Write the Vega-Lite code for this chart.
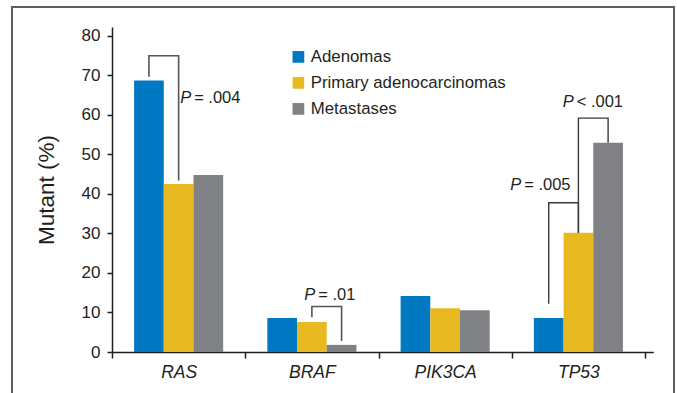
{
  "$schema": "https://vega.github.io/schema/vega-lite/v6.json",
  "width": 662,
  "height": 389,
  "autosize": {"type": "none"},
  "padding": {"left": 12, "top": 7, "right": 3, "bottom": -3},
  "background": "white",
  "config": {
    "view": {"stroke": "#5e5f61", "strokeWidth": 2},
    "font": "Liberation Sans",
    "axis": {"grid": false}
  },
  "datasets": {
    "bars": [
      {"gene": "RAS", "group": "Adenomas", "pct": 68.7},
      {"gene": "RAS", "group": "Primary adenocarcinomas", "pct": 42.5},
      {"gene": "RAS", "group": "Metastases", "pct": 44.8},
      {"gene": "BRAF", "group": "Adenomas", "pct": 8.6},
      {"gene": "BRAF", "group": "Primary adenocarcinomas", "pct": 7.6},
      {"gene": "BRAF", "group": "Metastases", "pct": 1.8},
      {"gene": "PIK3CA", "group": "Adenomas", "pct": 14.2},
      {"gene": "PIK3CA", "group": "Primary adenocarcinomas", "pct": 11.1},
      {"gene": "PIK3CA", "group": "Metastases", "pct": 10.6},
      {"gene": "TP53", "group": "Adenomas", "pct": 8.6},
      {"gene": "TP53", "group": "Primary adenocarcinomas", "pct": 30.2},
      {"gene": "TP53", "group": "Metastases", "pct": 53.0}
    ],
    "brackets": [
      {"set": "a", "bracket": "ras", "gene": "RAS", "group": "Adenomas", "pct": 69.7, "step": 1},
      {"set": "a", "bracket": "ras", "gene": "RAS", "group": "Adenomas", "pct": 75.0, "step": 2},
      {"set": "a", "bracket": "ras", "gene": "RAS", "group": "Primary adenocarcinomas", "pct": 75.0, "step": 3},
      {"set": "a", "bracket": "ras", "gene": "RAS", "group": "Primary adenocarcinomas", "pct": 43.4, "step": 4},
      {"set": "a", "bracket": "braf", "gene": "BRAF", "group": "Primary adenocarcinomas", "pct": 8.8, "step": 1},
      {"set": "a", "bracket": "braf", "gene": "BRAF", "group": "Primary adenocarcinomas", "pct": 11.5, "step": 2},
      {"set": "a", "bracket": "braf", "gene": "BRAF", "group": "Metastases", "pct": 11.5, "step": 3},
      {"set": "a", "bracket": "braf", "gene": "BRAF", "group": "Metastases", "pct": 2.8, "step": 4},
      {"set": "b", "bracket": "t005", "gene": "TP53", "group": "Adenomas", "pct": 12.2, "step": 1},
      {"set": "b", "bracket": "t005", "gene": "TP53", "group": "Adenomas", "pct": 37.8, "step": 2},
      {"set": "b", "bracket": "t005", "gene": "TP53", "group": "Primary adenocarcinomas", "pct": 37.8, "step": 3},
      {"set": "b", "bracket": "t005", "gene": "TP53", "group": "Primary adenocarcinomas", "pct": 30.2, "step": 4},
      {"set": "c", "bracket": "t001", "gene": "TP53", "group": "Primary adenocarcinomas", "pct": 30.2, "step": 1},
      {"set": "c", "bracket": "t001", "gene": "TP53", "group": "Primary adenocarcinomas", "pct": 59.2, "step": 2},
      {"set": "c", "bracket": "t001", "gene": "TP53", "group": "Metastases", "pct": 59.2, "step": 3},
      {"set": "c", "bracket": "t001", "gene": "TP53", "group": "Metastases", "pct": 53.0, "step": 4}
    ],
    "labels": [
      {"id": "ras", "gene": "RAS", "group": "Primary adenocarcinomas", "pct": 64.2, "sym": "P", "stat": "= .004"},
      {"id": "braf", "gene": "BRAF", "group": "Primary adenocarcinomas", "pct": 14.4, "sym": "P", "stat": "= .01"},
      {"id": "t005", "gene": "TP53", "group": "Adenomas", "pct": 42.3, "sym": "P", "stat": "= .005"},
      {"id": "t001", "gene": "TP53", "group": "Primary adenocarcinomas", "pct": 63.3, "sym": "P", "stat": "< .001"}
    ]
  },
  "layer": [
    {
      "data": {"name": "bars"},
      "mark": {"type": "bar"},
      "encoding": {
        "x": {
          "field": "gene", "type": "nominal",
          "sort": ["RAS", "BRAF", "PIK3CA", "TP53"],
          "scale": {"range": [100, 641.3], "paddingInner": 0, "paddingOuter": 0.031, "align": 0},
          "axis": {
            "orient": "bottom", "offset": -44, "title": null,
            "tickBand": "extent", "tickSize": 6, "tickWidth": 1.5, "tickColor": "#231f20",
            "domainColor": "#231f20", "domainWidth": 1.5,
            "labelFontSize": 17.5, "labelFontStyle": "italic", "labelAngle": 0,
            "labelPadding": 5, "labelColor": "#231f20"
          }
        },
        "xOffset": {
          "field": "group", "type": "nominal",
          "sort": ["Adenomas", "Primary adenocarcinomas", "Metastases"],
          "scale": {"paddingInner": 0, "paddingOuter": 0.744}
        },
        "y": {
          "field": "pct", "type": "quantitative",
          "scale": {"domain": [0, 82.3], "range": [345, 19.9], "nice": false, "zero": true},
          "axis": {
            "orient": "left", "offset": -100,
            "values": [0, 10, 20, 30, 40, 50, 60, 70, 80],
            "tickSize": 5, "tickWidth": 1.5, "tickColor": "#231f20",
            "domainColor": "#231f20", "domainWidth": 1.5,
            "labelFontSize": 17, "labelColor": "#231f20", "labelPadding": 7,
            "title": "Mutant (%)", "titleFontSize": 22.5, "titleFontWeight": "normal",
            "titleColor": "#231f20", "titlePadding": 23, "grid": false
          }
        },
        "color": {
          "field": "group", "type": "nominal",
          "scale": {
            "domain": ["Adenomas", "Primary adenocarcinomas", "Metastases"],
            "range": ["#0079c2", "#e9b922", "#808184"]
          },
          "legend": {
            "orient": "none", "legendX": 278, "legendY": 41.5, "title": null,
            "symbolType": "square", "symbolSize": 137, "symbolStrokeWidth": 0,
            "labelFontSize": 16.8, "labelColor": "#231f20", "labelOffset": 4,
            "rowPadding": 8, "padding": 0, "labelLimit": 400
          }
        }
      }
    },
    {
      "data": {"name": "brackets"},
      "transform": [{"filter": "datum.set == 'a'"}],
      "mark": {"type": "line", "color": "#555557", "strokeWidth": 1.6, "strokeJoin": "miter", "strokeCap": "butt"},
      "encoding": {
        "x": {"field": "gene", "type": "nominal", "sort": ["RAS", "BRAF", "PIK3CA", "TP53"]},
        "xOffset": {"field": "group", "type": "nominal", "sort": ["Adenomas", "Primary adenocarcinomas", "Metastases"], "bandPosition": 0.41},
        "y": {"field": "pct", "type": "quantitative"},
        "detail": {"field": "bracket", "type": "nominal"},
        "order": {"field": "step", "type": "quantitative"}
      }
    },
    {
      "data": {"name": "brackets"},
      "transform": [{"filter": "datum.set == 'b'"}],
      "mark": {"type": "line", "color": "#3a3a3c", "strokeWidth": 1.4, "strokeJoin": "miter", "strokeCap": "butt"},
      "encoding": {
        "x": {"field": "gene", "type": "nominal", "sort": ["RAS", "BRAF", "PIK3CA", "TP53"]},
        "xOffset": {"field": "group", "type": "nominal", "sort": ["Adenomas", "Primary adenocarcinomas", "Metastases"], "bandPosition": 0.5},
        "y": {"field": "pct", "type": "quantitative"},
        "detail": {"field": "bracket", "type": "nominal"},
        "order": {"field": "step", "type": "quantitative"}
      }
    },
    {
      "data": {"name": "brackets"},
      "transform": [{"filter": "datum.set == 'c'"}],
      "mark": {"type": "line", "color": "#3a3a3c", "strokeWidth": 1.4, "strokeJoin": "miter", "strokeCap": "butt"},
      "encoding": {
        "x": {"field": "gene", "type": "nominal", "sort": ["RAS", "BRAF", "PIK3CA", "TP53"]},
        "xOffset": {"field": "group", "type": "nominal", "sort": ["Adenomas", "Primary adenocarcinomas", "Metastases"], "bandPosition": 0.65},
        "y": {"field": "pct", "type": "quantitative"},
        "detail": {"field": "bracket", "type": "nominal"},
        "order": {"field": "step", "type": "quantitative"}
      }
    },
    {
      "data": {"name": "labels"},
      "transform": [{"filter": "datum.id == 'ras'"}],
      "encoding": {
        "x": {"field": "gene", "type": "nominal", "sort": ["RAS", "BRAF", "PIK3CA", "TP53"]},
        "xOffset": {"field": "group", "type": "nominal", "sort": ["Adenomas", "Primary adenocarcinomas", "Metastases"]},
        "y": {"field": "pct", "type": "quantitative"}
      },
      "layer": [
        {"mark": {"type": "text", "align": "left", "baseline": "middle", "dx": 1.5, "fontSize": 16.5, "fontStyle": "italic", "color": "#231f20"}, "encoding": {"text": {"field": "sym"}}},
        {"mark": {"type": "text", "align": "left", "baseline": "middle", "dx": 15.5, "fontSize": 16.5, "color": "#231f20"}, "encoding": {"text": {"field": "stat"}}}
      ]
    },
    {
      "data": {"name": "labels"},
      "transform": [{"filter": "datum.id == 'braf'"}],
      "encoding": {
        "x": {"field": "gene", "type": "nominal", "sort": ["RAS", "BRAF", "PIK3CA", "TP53"]},
        "xOffset": {"field": "group", "type": "nominal", "sort": ["Adenomas", "Primary adenocarcinomas", "Metastases"]},
        "y": {"field": "pct", "type": "quantitative"}
      },
      "layer": [
        {"mark": {"type": "text", "align": "left", "baseline": "middle", "dx": -7.7, "fontSize": 16.5, "fontStyle": "italic", "color": "#231f20"}, "encoding": {"text": {"field": "sym"}}},
        {"mark": {"type": "text", "align": "left", "baseline": "middle", "dx": 6.3, "fontSize": 16.5, "color": "#231f20"}, "encoding": {"text": {"field": "stat"}}}
      ]
    },
    {
      "data": {"name": "labels"},
      "transform": [{"filter": "datum.id == 't005'"}],
      "encoding": {
        "x": {"field": "gene", "type": "nominal", "sort": ["RAS", "BRAF", "PIK3CA", "TP53"]},
        "xOffset": {"field": "group", "type": "nominal", "sort": ["Adenomas", "Primary adenocarcinomas", "Metastases"]},
        "y": {"field": "pct", "type": "quantitative"}
      },
      "layer": [
        {"mark": {"type": "text", "align": "left", "baseline": "middle", "dx": -38.5, "fontSize": 16.5, "fontStyle": "italic", "color": "#231f20"}, "encoding": {"text": {"field": "sym"}}},
        {"mark": {"type": "text", "align": "left", "baseline": "middle", "dx": -24.5, "fontSize": 16.5, "color": "#231f20"}, "encoding": {"text": {"field": "stat"}}}
      ]
    },
    {
      "data": {"name": "labels"},
      "transform": [{"filter": "datum.id == 't001'"}],
      "encoding": {
        "x": {"field": "gene", "type": "nominal", "sort": ["RAS", "BRAF", "PIK3CA", "TP53"]},
        "xOffset": {"field": "group", "type": "nominal", "sort": ["Adenomas", "Primary adenocarcinomas", "Metastases"]},
        "y": {"field": "pct", "type": "quantitative"}
      },
      "layer": [
        {"mark": {"type": "text", "align": "left", "baseline": "middle", "dx": -15.7, "fontSize": 16.5, "fontStyle": "italic", "color": "#231f20"}, "encoding": {"text": {"field": "sym"}}},
        {"mark": {"type": "text", "align": "left", "baseline": "middle", "dx": -1.7, "fontSize": 16.5, "color": "#231f20"}, "encoding": {"text": {"field": "stat"}}}
      ]
    }
  ]
}
